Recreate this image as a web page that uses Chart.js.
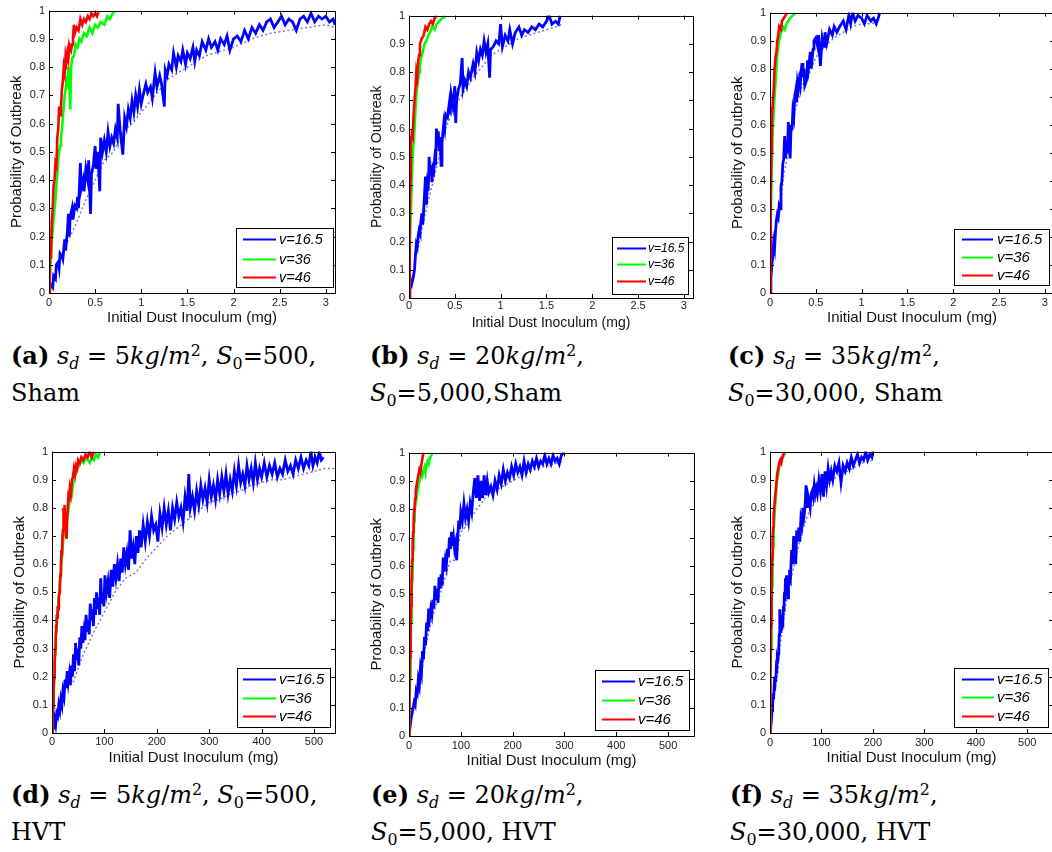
<!DOCTYPE html>
<html>
<head>
<meta charset="utf-8">
<title>Probability of Outbreak</title>
<script src="https://cdn.jsdelivr.net/npm/chart.js@4.4.0/dist/chart.umd.min.js"></script>
<style>
  html, body { margin: 0; padding: 0; background: #fff; width: 1052px; height: 852px; overflow: hidden; }
  canvas { position: absolute; }
  .cap { position: absolute; font-family: 'DejaVu Serif', serif; font-size: 24px; line-height: 37px; color: #000; white-space: nowrap; }
  .cap sub { font-size: 0.66em; line-height: 0; vertical-align: baseline; position: relative; top: 0.3em; }
  .cap sup { font-size: 0.66em; line-height: 0; vertical-align: baseline; position: relative; top: -0.5em; }
  .cap b { font-weight: bold; }
</style>
</head>
<body>

<canvas id="pa"></canvas>
<canvas id="pb"></canvas>
<canvas id="pc"></canvas>
<canvas id="pd"></canvas>
<canvas id="pe"></canvas>
<canvas id="pf"></canvas>

<div class="cap" style="left:11px; top:337px;"><b>(a)</b> <i>s<sub>d</sub></i> = 5<i>kg</i>/<i>m</i><sup>2</sup>, <i>S</i><sub>0</sub>=500,<br>Sham</div>
<div class="cap" style="left:370px; top:337px;"><b>(b)</b> <i>s<sub>d</sub></i> = 20<i>kg</i>/<i>m</i><sup>2</sup>,<br><i>S</i><sub>0</sub>=5,000,Sham</div>
<div class="cap" style="left:728px; top:337px;"><b>(c)</b> <i>s<sub>d</sub></i> = 35<i>kg</i>/<i>m</i><sup>2</sup>,<br><i>S</i><sub>0</sub>=30,000, Sham</div>
<div class="cap" style="left:11px; top:776px;"><b>(d)</b> <i>s<sub>d</sub></i> = 5<i>kg</i>/<i>m</i><sup>2</sup>, <i>S</i><sub>0</sub>=500,<br>HVT</div>
<div class="cap" style="left:371px; top:776px;"><b>(e)</b> <i>s<sub>d</sub></i> = 20<i>kg</i>/<i>m</i><sup>2</sup>,<br><i>S</i><sub>0</sub>=5,000, HVT</div>
<div class="cap" style="left:730px; top:776px;"><b>(f)</b> <i>s<sub>d</sub></i> = 35<i>kg</i>/<i>m</i><sup>2</sup>,<br><i>S</i><sub>0</sub>=30,000, HVT</div>

<script>
// tick values
const yTicks = [0, 0.1, 0.2, 0.3, 0.4, 0.5, 0.6, 0.7, 0.8, 0.9, 1];
const shamTicks = [0, 0.5, 1, 1.5, 2, 2.5, 3];
const hvtTicks = [0, 100, 200, 300, 400, 500];
const legendLabels = ['v=16.5', 'v=36', 'v=46'];

// (a) Sham, s_d=5
const aBlue = [[0,0],[0.02,0.03],[0.04,0.02],[0.05,0.06],[0.07,0.05],[0.08,0.1],[0.1,0.11],[0.11,0.09],[0.12,0.14],[0.14,0.13],[0.15,0.12],[0.17,0.19],[0.18,0.15],[0.2,0.22],[0.21,0.28],[0.22,0.2],[0.23,0.27],[0.25,0.3],[0.26,0.26],[0.28,0.31],[0.3,0.3],[0.31,0.34],[0.32,0.3],[0.34,0.46],[0.35,0.37],[0.37,0.4],[0.38,0.36],[0.4,0.44],[0.42,0.4],[0.43,0.47],[0.45,0.28],[0.46,0.42],[0.48,0.45],[0.5,0.52],[0.51,0.44],[0.53,0.5],[0.55,0.36],[0.56,0.55],[0.58,0.5],[0.6,0.54],[0.62,0.5],[0.64,0.57],[0.66,0.52],[0.68,0.55],[0.7,0.53],[0.72,0.58],[0.74,0.55],[0.75,0.67],[0.77,0.58],[0.79,0.52],[0.8,0.49],[0.82,0.62],[0.84,0.59],[0.86,0.65],[0.88,0.62],[0.9,0.68],[0.92,0.64],[0.94,0.7],[0.96,0.66],[0.98,0.72],[1.0,0.67],[1.02,0.7],[1.05,0.74],[1.07,0.71],[1.1,0.73],[1.12,0.69],[1.15,0.78],[1.17,0.73],[1.2,0.77],[1.22,0.74],[1.25,0.66],[1.26,0.79],[1.28,0.77],[1.3,0.81],[1.33,0.79],[1.35,0.85],[1.38,0.8],[1.4,0.84],[1.43,0.82],[1.45,0.86],[1.48,0.81],[1.5,0.85],[1.53,0.83],[1.56,0.87],[1.58,0.82],[1.6,0.86],[1.63,0.84],[1.66,0.89],[1.7,0.86],[1.73,0.9],[1.76,0.87],[1.8,0.89],[1.83,0.86],[1.86,0.9],[1.9,0.88],[1.93,0.91],[1.96,0.86],[2.0,0.9],[2.04,0.91],[2.08,0.89],[2.12,0.93],[2.16,0.9],[2.2,0.94],[2.24,0.92],[2.28,0.95],[2.32,0.93],[2.36,0.96],[2.4,0.97],[2.44,0.94],[2.48,0.96],[2.52,0.98],[2.56,0.95],[2.6,0.97],[2.64,0.96],[2.68,0.93],[2.72,0.97],[2.76,0.98],[2.8,0.96],[2.84,0.99],[2.88,0.96],[2.92,0.98],[2.96,0.97],[3.0,0.98],[3.04,0.96],[3.08,0.97],[3.1,0.95]];
const aGreen = [[0,0],[0.01,0.06],[0.02,0.12],[0.03,0.18],[0.04,0.22],[0.05,0.26],[0.06,0.3],[0.07,0.33],[0.08,0.38],[0.09,0.42],[0.1,0.47],[0.11,0.5],[0.12,0.52],[0.13,0.55],[0.14,0.58],[0.15,0.62],[0.16,0.66],[0.17,0.7],[0.18,0.72],[0.19,0.75],[0.2,0.74],[0.21,0.8],[0.22,0.77],[0.23,0.65],[0.24,0.8],[0.25,0.83],[0.27,0.84],[0.29,0.88],[0.31,0.87],[0.33,0.9],[0.35,0.89],[0.38,0.92],[0.41,0.91],[0.44,0.94],[0.47,0.92],[0.5,0.95],[0.53,0.94],[0.56,0.96],[0.6,0.95],[0.63,0.98],[0.66,0.97],[0.69,0.99],[0.72,1.0]];
const aRed = [[0,0],[0.005,0.08],[0.01,0.15],[0.02,0.12],[0.03,0.25],[0.04,0.3],[0.05,0.38],[0.06,0.4],[0.07,0.46],[0.08,0.45],[0.09,0.55],[0.1,0.58],[0.11,0.66],[0.12,0.63],[0.13,0.66],[0.14,0.72],[0.15,0.75],[0.16,0.8],[0.17,0.78],[0.18,0.84],[0.19,0.82],[0.2,0.85],[0.21,0.83],[0.22,0.88],[0.24,0.86],[0.25,0.88],[0.26,0.9],[0.27,0.95],[0.28,0.92],[0.3,0.94],[0.32,0.93],[0.34,0.97],[0.36,0.95],[0.38,0.97],[0.4,0.96],[0.42,0.98],[0.44,0.97],[0.46,0.99],[0.48,0.98],[0.5,0.99],[0.52,0.98],[0.54,1.0]];
const aDots = [[0.2,0.18],[0.3,0.25],[0.4,0.33],[0.5,0.4],[0.6,0.47],[0.7,0.5],[0.8,0.57],[0.9,0.6],[1.0,0.64],[1.1,0.68],[1.2,0.72],[1.3,0.76],[1.4,0.78],[1.5,0.8],[1.6,0.82],[1.7,0.84],[1.8,0.85],[1.9,0.86],[2.0,0.87],[2.2,0.9],[2.4,0.92],[2.6,0.93],[2.8,0.94],[3.0,0.95],[3.1,0.94]];

// (b) Sham, s_d=20
const bBlue = [[0,0],[0.01,0.03],[0.02,0.06],[0.03,0.05],[0.05,0.08],[0.06,0.1],[0.07,0.15],[0.08,0.19],[0.09,0.18],[0.1,0.22],[0.11,0.24],[0.12,0.23],[0.13,0.27],[0.14,0.3],[0.15,0.26],[0.16,0.31],[0.17,0.37],[0.18,0.43],[0.19,0.33],[0.2,0.4],[0.21,0.38],[0.22,0.5],[0.23,0.44],[0.24,0.47],[0.25,0.41],[0.26,0.46],[0.27,0.45],[0.28,0.49],[0.29,0.47],[0.3,0.6],[0.31,0.55],[0.32,0.59],[0.33,0.52],[0.34,0.57],[0.35,0.47],[0.36,0.55],[0.38,0.62],[0.39,0.6],[0.4,0.65],[0.42,0.64],[0.44,0.69],[0.45,0.65],[0.46,0.72],[0.48,0.68],[0.5,0.75],[0.51,0.62],[0.52,0.7],[0.54,0.74],[0.56,0.76],[0.58,0.85],[0.59,0.74],[0.61,0.77],[0.63,0.75],[0.65,0.8],[0.67,0.78],[0.7,0.83],[0.72,0.8],[0.74,0.87],[0.76,0.84],[0.78,0.88],[0.8,0.86],[0.82,0.91],[0.84,0.87],[0.86,0.9],[0.88,0.78],[0.89,0.88],[0.92,0.89],[0.95,0.91],[0.98,0.9],[1.0,0.97],[1.02,0.89],[1.05,0.93],[1.08,0.91],[1.1,0.95],[1.13,0.9],[1.16,0.94],[1.2,0.96],[1.23,0.93],[1.26,0.95],[1.3,0.94],[1.34,0.96],[1.38,0.95],[1.42,0.97],[1.46,0.96],[1.5,0.98],[1.53,1.0],[1.56,0.97],[1.6,0.98],[1.63,0.97],[1.65,1.0]];
const bGreen = [[0,0],[0.005,0.08],[0.01,0.18],[0.02,0.3],[0.03,0.42],[0.04,0.5],[0.05,0.55],[0.06,0.6],[0.07,0.66],[0.08,0.72],[0.09,0.75],[0.1,0.77],[0.11,0.8],[0.12,0.82],[0.13,0.85],[0.15,0.87],[0.17,0.9],[0.19,0.91],[0.21,0.93],[0.23,0.94],[0.25,0.96],[0.28,0.95],[0.3,0.97],[0.33,0.98],[0.36,0.99],[0.4,1.0]];
const bRed = [[0,0],[0.005,0.15],[0.01,0.3],[0.015,0.42],[0.02,0.55],[0.03,0.58],[0.04,0.57],[0.05,0.65],[0.06,0.7],[0.07,0.74],[0.08,0.8],[0.09,0.78],[0.1,0.84],[0.11,0.86],[0.12,0.9],[0.14,0.92],[0.16,0.93],[0.18,0.96],[0.2,0.95],[0.22,0.97],[0.24,0.98],[0.26,0.97],[0.28,0.99],[0.3,1.0]];
const bDots = [[0.1,0.18],[0.2,0.33],[0.3,0.46],[0.4,0.6],[0.5,0.68],[0.6,0.73],[0.7,0.78],[0.8,0.82],[0.9,0.86],[1.0,0.88],[1.1,0.9],[1.2,0.92],[1.3,0.93],[1.4,0.94],[1.5,0.95],[1.6,0.96],[1.68,0.97]];

// (c) Sham, s_d=35
const cBlue = [[0,0],[0.01,0.05],[0.02,0.1],[0.03,0.13],[0.04,0.18],[0.05,0.16],[0.06,0.22],[0.07,0.26],[0.08,0.28],[0.09,0.27],[0.1,0.31],[0.11,0.3],[0.12,0.38],[0.13,0.4],[0.14,0.46],[0.15,0.48],[0.16,0.56],[0.17,0.48],[0.18,0.53],[0.19,0.5],[0.2,0.61],[0.21,0.55],[0.22,0.48],[0.23,0.6],[0.24,0.58],[0.25,0.65],[0.26,0.63],[0.27,0.7],[0.28,0.72],[0.29,0.68],[0.3,0.75],[0.31,0.73],[0.32,0.76],[0.33,0.74],[0.34,0.79],[0.35,0.82],[0.36,0.77],[0.37,0.8],[0.38,0.74],[0.4,0.76],[0.41,0.83],[0.42,0.8],[0.44,0.86],[0.45,0.8],[0.47,0.87],[0.48,0.9],[0.5,0.91],[0.52,0.88],[0.53,0.92],[0.55,0.81],[0.57,0.91],[0.59,0.88],[0.6,0.93],[0.62,0.89],[0.65,0.94],[0.68,0.92],[0.7,0.95],[0.73,0.93],[0.76,0.95],[0.8,0.97],[0.83,0.94],[0.86,0.99],[0.88,0.96],[0.9,1.0],[0.93,0.97],[0.96,0.99],[1.0,0.98],[1.03,0.96],[1.06,0.99],[1.1,0.97],[1.13,0.98],[1.16,0.96],[1.18,0.98],[1.2,1.0]];
const cGreen = [[0,0],[0.005,0.1],[0.01,0.25],[0.02,0.45],[0.03,0.58],[0.04,0.65],[0.05,0.7],[0.06,0.75],[0.07,0.8],[0.08,0.85],[0.09,0.88],[0.1,0.9],[0.12,0.93],[0.14,0.95],[0.16,0.94],[0.18,0.96],[0.2,0.97],[0.22,0.98],[0.25,0.99],[0.28,1.0]];
const cRed = [[0,0],[0.005,0.15],[0.01,0.35],[0.015,0.5],[0.02,0.6],[0.025,0.66],[0.03,0.68],[0.04,0.72],[0.05,0.8],[0.06,0.84],[0.07,0.86],[0.08,0.9],[0.09,0.92],[0.1,0.95],[0.12,0.94],[0.13,0.97],[0.15,0.98],[0.17,0.99],[0.19,1.0]];
const cDots = [[0.1,0.27],[0.15,0.42],[0.2,0.5],[0.25,0.62],[0.3,0.68],[0.35,0.74],[0.4,0.76],[0.5,0.84],[0.6,0.88],[0.7,0.91],[0.8,0.93],[0.9,0.95],[1.0,0.96],[1.1,0.96],[1.2,0.97]];

// (d) HVT, s_d=5
const dBlue = [[0,0],[3,0.02],[5,0.05],[7,0.03],[9,0.07],[11,0.06],[13,0.1],[15,0.08],[17,0.12],[19,0.1],[21,0.15],[23,0.13],[25,0.19],[27,0.16],[29,0.22],[31,0.18],[33,0.21],[35,0.17],[37,0.24],[39,0.2],[41,0.28],[43,0.22],[45,0.32],[47,0.26],[49,0.3],[51,0.24],[53,0.34],[55,0.3],[57,0.38],[59,0.32],[61,0.36],[63,0.33],[65,0.42],[67,0.36],[69,0.4],[71,0.35],[73,0.46],[75,0.4],[77,0.44],[79,0.38],[81,0.48],[83,0.42],[85,0.5],[87,0.44],[89,0.48],[91,0.42],[93,0.55],[95,0.46],[97,0.5],[99,0.45],[101,0.56],[104,0.5],[107,0.54],[110,0.48],[113,0.58],[116,0.52],[119,0.6],[122,0.55],[125,0.6],[128,0.54],[131,0.62],[134,0.57],[137,0.66],[140,0.6],[143,0.64],[146,0.58],[149,0.72],[152,0.62],[155,0.66],[158,0.6],[161,0.7],[164,0.64],[167,0.72],[170,0.66],[174,0.74],[178,0.68],[182,0.75],[186,0.7],[190,0.77],[194,0.72],[198,0.74],[202,0.68],[206,0.78],[210,0.73],[214,0.8],[218,0.74],[222,0.79],[226,0.72],[230,0.8],[234,0.76],[238,0.82],[242,0.77],[246,0.8],[250,0.75],[254,0.84],[258,0.79],[261,0.92],[264,0.8],[268,0.84],[272,0.79],[276,0.86],[280,0.81],[284,0.88],[288,0.83],[292,0.87],[296,0.82],[300,0.9],[304,0.84],[308,0.88],[312,0.83],[316,0.9],[320,0.85],[324,0.91],[328,0.86],[332,0.92],[336,0.85],[340,0.9],[344,0.86],[348,0.93],[352,0.88],[356,0.95],[360,0.89],[364,0.92],[368,0.88],[372,0.95],[376,0.9],[380,0.94],[384,0.89],[388,0.96],[392,0.9],[396,0.94],[400,0.91],[405,0.96],[410,0.91],[415,0.95],[420,0.92],[425,0.96],[430,0.91],[435,0.94],[440,0.92],[445,0.97],[450,0.93],[455,0.95],[460,0.92],[465,0.97],[470,0.94],[475,0.98],[480,0.94],[485,0.97],[490,0.95],[494,1.0],[498,0.95],[502,0.98],[506,0.96],[510,1.0],[514,0.97],[518,0.98]];
const dGreen = [[0,0],[1,0.04],[2,0.1],[3,0.14],[4,0.19],[5,0.24],[6,0.28],[7,0.32],[8,0.36],[9,0.4],[10,0.42],[12,0.46],[14,0.5],[16,0.55],[18,0.6],[20,0.65],[22,0.7],[24,0.72],[26,0.76],[28,0.78],[30,0.77],[32,0.8],[34,0.83],[36,0.86],[38,0.85],[40,0.88],[42,0.9],[45,0.92],[48,0.94],[52,0.95],[56,0.97],[60,0.96],[64,0.98],[68,0.97],[72,0.96],[76,0.98],[80,0.97],[84,0.99],[88,0.98],[92,1.0]];
const dRed = [[0,0],[1,0.05],[2,0.09],[3,0.15],[4,0.2],[5,0.25],[6,0.3],[7,0.34],[8,0.38],[9,0.42],[10,0.41],[11,0.45],[12,0.44],[13,0.48],[14,0.5],[15,0.53],[16,0.56],[17,0.6],[18,0.65],[19,0.63],[20,0.7],[21,0.72],[22,0.8],[23,0.75],[24,0.81],[25,0.74],[26,0.78],[27,0.7],[28,0.69],[29,0.78],[30,0.8],[31,0.83],[32,0.82],[34,0.87],[36,0.85],[38,0.9],[40,0.91],[42,0.94],[44,0.92],[46,0.95],[48,0.94],[50,0.97],[53,0.96],[56,0.98],[60,0.97],[64,0.99],[68,0.98],[72,1.0],[76,0.98],[80,1.0]];
const dDots = [[40,0.18],[60,0.28],[80,0.36],[100,0.43],[120,0.5],[140,0.55],[160,0.57],[180,0.62],[200,0.66],[220,0.7],[240,0.73],[260,0.76],[280,0.79],[300,0.82],[320,0.83],[340,0.85],[360,0.86],[380,0.88],[400,0.89],[420,0.9],[440,0.9],[460,0.91],[480,0.92],[500,0.93],[520,0.94],[540,0.94]];

// (e) HVT, s_d=20
const eBlue = [[0,0],[2,0.03],[4,0.06],[6,0.08],[8,0.1],[10,0.12],[12,0.11],[14,0.16],[16,0.15],[18,0.2],[20,0.18],[22,0.24],[24,0.22],[26,0.3],[28,0.27],[30,0.35],[32,0.32],[34,0.4],[36,0.37],[38,0.45],[40,0.42],[42,0.45],[44,0.43],[46,0.48],[48,0.45],[50,0.53],[52,0.48],[54,0.52],[56,0.47],[58,0.56],[60,0.52],[62,0.57],[64,0.53],[66,0.63],[68,0.58],[70,0.62],[72,0.6],[74,0.66],[76,0.63],[78,0.7],[80,0.66],[82,0.72],[84,0.67],[86,0.7],[88,0.66],[90,0.68],[92,0.62],[94,0.7],[96,0.76],[98,0.73],[100,0.79],[103,0.76],[106,0.82],[109,0.77],[112,0.8],[115,0.76],[118,0.82],[121,0.79],[124,0.86],[127,0.91],[130,0.84],[133,0.92],[136,0.83],[139,0.9],[142,0.84],[145,0.92],[148,0.85],[151,0.9],[154,0.86],[158,0.88],[162,0.85],[166,0.9],[170,0.87],[174,0.92],[178,0.89],[182,0.94],[186,0.9],[190,0.93],[194,0.91],[198,0.95],[202,0.92],[206,0.96],[210,0.93],[214,0.95],[218,0.92],[222,0.97],[226,0.93],[230,0.96],[234,0.94],[238,0.97],[242,0.95],[246,0.98],[250,0.95],[254,0.97],[258,0.96],[262,0.99],[266,0.96],[270,0.98],[274,0.96],[278,0.99],[282,0.97],[286,0.98],[290,0.96],[294,0.99],[298,1.0]];
const eGreen = [[0,0],[0.5,0.05],[1,0.1],[2,0.2],[3,0.3],[4,0.4],[5,0.5],[6,0.55],[7,0.6],[8,0.66],[9,0.72],[10,0.76],[11,0.8],[12,0.81],[14,0.83],[16,0.86],[18,0.88],[20,0.9],[22,0.91],[24,0.93],[26,0.92],[28,0.94],[30,0.95],[32,0.93],[34,0.96],[36,0.97],[38,0.96],[40,0.98],[43,0.99],[46,1.0]];
const eRed = [[0,0],[0.5,0.08],[1,0.15],[2,0.28],[3,0.38],[4,0.46],[5,0.55],[6,0.62],[7,0.68],[8,0.72],[9,0.76],[10,0.8],[11,0.82],[12,0.84],[13,0.86],[14,0.88],[15,0.89],[16,0.9],[18,0.92],[20,0.94],[22,0.93],[24,0.96],[26,0.98],[28,1.0]];
const eDots = [[20,0.15],[30,0.3],[40,0.38],[50,0.45],[60,0.5],[70,0.56],[80,0.62],[90,0.62],[100,0.72],[110,0.74],[120,0.77],[130,0.8],[140,0.82],[150,0.85],[160,0.86],[180,0.88],[200,0.9],[220,0.92],[240,0.94],[260,0.95],[280,0.96],[300,0.97]];

// (f) HVT, s_d=35
const fBlue = [[0,0],[2,0.03],[4,0.08],[5,0.1],[6,0.14],[7,0.12],[8,0.16],[9,0.15],[10,0.2],[11,0.18],[12,0.22],[13,0.21],[14,0.26],[15,0.25],[16,0.28],[17,0.3],[18,0.35],[19,0.44],[20,0.36],[21,0.4],[22,0.37],[23,0.42],[24,0.38],[25,0.4],[26,0.45],[27,0.43],[28,0.5],[29,0.47],[30,0.55],[31,0.5],[32,0.56],[33,0.5],[34,0.53],[35,0.48],[36,0.56],[37,0.53],[38,0.58],[40,0.56],[42,0.65],[44,0.6],[46,0.7],[48,0.66],[50,0.6],[52,0.72],[54,0.68],[56,0.73],[58,0.68],[60,0.76],[62,0.74],[64,0.8],[66,0.77],[68,0.8],[70,0.88],[72,0.8],[74,0.84],[76,0.82],[78,0.8],[80,0.85],[82,0.86],[84,0.84],[86,0.88],[88,0.85],[90,0.87],[92,0.85],[95,0.9],[98,0.86],[101,0.92],[104,0.84],[107,0.93],[110,0.88],[113,0.94],[116,0.9],[119,0.93],[122,0.9],[126,0.95],[130,0.93],[134,0.96],[138,0.89],[142,0.95],[146,0.93],[150,0.96],[154,0.94],[158,0.98],[162,0.95],[166,0.97],[170,0.99],[174,0.96],[178,0.98],[182,0.97],[186,1.0],[190,0.97],[194,0.99],[198,0.98],[200,1.0]];
const fGreen = [[0,0],[0.5,0.08],[1,0.16],[2,0.3],[3,0.42],[4,0.52],[5,0.6],[6,0.66],[7,0.71],[8,0.75],[10,0.81],[12,0.86],[14,0.9],[16,0.92],[18,0.95],[20,0.96],[22,0.97],[25,0.98],[28,0.99],[30,1.0]];
const fRed = [[0,0],[0.5,0.1],[1,0.2],[2,0.38],[3,0.52],[4,0.62],[5,0.68],[6,0.73],[7,0.77],[8,0.8],[10,0.84],[12,0.88],[14,0.92],[16,0.94],[18,0.96],[20,0.97],[22,0.96],[24,0.98],[26,0.99],[28,1.0]];
const fDots = [[10,0.15],[15,0.22],[20,0.32],[30,0.45],[40,0.54],[50,0.62],[60,0.7],[70,0.76],[80,0.8],[90,0.83],[100,0.86],[110,0.88],[120,0.9],[140,0.92],[160,0.94],[180,0.96],[200,0.97]];

const FONT = "'Liberation Sans', Arial, sans-serif";

// geometry of each panel (plot box in page px) and its inner legend
const panels = [
  { id: 'pa', L: 49, R: 335, T: 8, B: 293, xMax: 3.1, ticks: shamTicks, title: 15, tickPad: 3,
    series: [aBlue, aGreen, aRed], dots: aDots,
    legend: { ri: 2, bi: 6, w: 97, h: 59, rows: [11, 31, 49], lx: 7, len: 33, tx: 43, size: 14.5 } },
  { id: 'pb', L: 409, R: 693, T: 13, B: 298, xMax: 3.1, ticks: shamTicks, title: 14, tickPad: 1.5,
    series: [bBlue, bGreen, bRed], dots: bDots,
    legend: { ri: 5, bi: 4, w: 76, h: 57, rows: [11, 27, 44], lx: 5, len: 29, tx: 36, size: 12 } },
  { id: 'pc', L: 770, R: 1054, T: 10, B: 293, xMax: 3.1, ticks: shamTicks, title: 15, tickPad: 3,
    series: [cBlue, cGreen, cRed], dots: cDots,
    legend: { ri: 5, bi: 8, w: 95, h: 56, rows: [10, 28, 46], lx: 8, len: 31, tx: 43, size: 15 } },
  { id: 'pd', L: 52, R: 335, T: 449, B: 733, xMax: 540, ticks: hvtTicks, title: 15, tickPad: 2.5,
    series: [dBlue, dGreen, dRed], dots: dDots,
    legend: { ri: 5, bi: 6, w: 93, h: 59, rows: [11, 30, 48], lx: 6, len: 33, tx: 42, size: 15 } },
  { id: 'pe', L: 409, R: 694, T: 450, B: 736, xMax: 550, ticks: hvtTicks, title: 15, tickPad: 3,
    series: [eBlue, eGreen, eRed], dots: eDots,
    legend: { ri: 5, bi: 6, w: 94, h: 60, rows: [11, 30, 49], lx: 7, len: 33, tx: 43, size: 15 } },
  { id: 'pf', L: 770, R: 1053, T: 449, B: 733, xMax: 550, ticks: hvtTicks, title: 15, tickPad: 3,
    series: [fBlue, fGreen, fRed], dots: fDots,
    legend: { ri: 5, bi: 6, w: 94, h: 59, rows: [11, 29, 48], lx: 8, len: 32, tx: 43, size: 15 } },
];

const colors = ['#0000ff', '#00ff00', '#ff0000'];
const AXW = 49, AXH = 37, PADT = 8, PADR = 12;

function toXY(points) {
  return points.map(p => ({ x: p[0], y: p[1] }));
}

// box, inward ticks on all four sides
function framePlugin(xTicks) {
  return {
    id: 'frame',
    afterDraw(chart) {
      const { ctx, chartArea: ca, scales } = chart;
      ctx.save();
      ctx.strokeStyle = '#000';
      ctx.lineWidth = 1;
      ctx.strokeRect(Math.round(ca.left) + 0.5, Math.round(ca.top) + 0.5,
        Math.round(ca.right - ca.left), Math.round(ca.bottom - ca.top));
      ctx.beginPath();
      xTicks.forEach(v => {
        const px = Math.round(scales.x.getPixelForValue(v)) + 0.5;
        ctx.moveTo(px, ca.bottom); ctx.lineTo(px, ca.bottom - 4);
        ctx.moveTo(px, ca.top); ctx.lineTo(px, ca.top + 4);
      });
      yTicks.forEach(v => {
        const py = Math.round(scales.y.getPixelForValue(v)) + 0.5;
        ctx.moveTo(ca.left, py); ctx.lineTo(ca.left + 4, py);
        ctx.moveTo(ca.right, py); ctx.lineTo(ca.right - 4, py);
      });
      ctx.stroke();
      ctx.restore();
    }
  };
}

// matlab-style legend box in the lower right of the plot
function legendPlugin(lg) {
  return {
    id: 'boxLegend',
    afterDraw(chart) {
      const { ctx, chartArea: ca } = chart;
      const x0 = Math.round(ca.right - lg.ri - lg.w);
      const y0 = Math.round(ca.bottom - lg.bi - lg.h);
      ctx.save();
      ctx.fillStyle = '#fff';
      ctx.fillRect(x0, y0, lg.w, lg.h);
      ctx.strokeStyle = '#000';
      ctx.lineWidth = 1;
      ctx.strokeRect(x0 + 0.5, y0 + 0.5, lg.w, lg.h);
      const items = chart.data.datasets.filter(d => d.inLegend);
      items.forEach((d, i) => {
        const y = y0 + lg.rows[i];
        ctx.strokeStyle = d.borderColor;
        ctx.lineWidth = 2;
        ctx.beginPath();
        ctx.moveTo(x0 + lg.lx, y + 0.5);
        ctx.lineTo(x0 + lg.lx + lg.len, y + 0.5);
        ctx.stroke();
        ctx.fillStyle = '#000';
        ctx.font = 'italic ' + lg.size + 'px ' + FONT;
        ctx.textBaseline = 'middle';
        ctx.fillText(d.label, x0 + lg.tx, y + 1);
      });
      ctx.restore();
    }
  };
}

function makePanel(p) {
  const canvas = document.getElementById(p.id);
  const w = (p.R - p.L) + AXW + PADR;
  const h = (p.B - p.T) + PADT + AXH;
  canvas.width = w;
  canvas.height = h;
  canvas.style.width = w + 'px';
  canvas.style.height = h + 'px';
  canvas.style.left = (p.L - AXW) + 'px';
  canvas.style.top = (p.T - PADT) + 'px';

  const datasets = [{
    label: '', data: toXY(p.dots), borderColor: 'rgba(70,70,255,0.75)', borderWidth: 1.5,
    borderDash: [2, 2.5], pointRadius: 0, tension: 0, fill: false, order: 4, inLegend: false
  }];
  p.series.forEach((pts, i) => {
    datasets.push({
      label: legendLabels[i], data: toXY(pts), borderColor: colors[i], borderWidth: i === 0 ? 2.8 : 2.6,
      pointRadius: 0, tension: 0, fill: false, order: 3 - i, inLegend: true
    });
  });

  new Chart(canvas.getContext('2d'), {
    type: 'line',
    data: { datasets },
    options: {
      responsive: false,
      animation: false,
      events: [],
      layout: { padding: { top: PADT, right: PADR, left: 0, bottom: 0 } },
      plugins: { legend: { display: false }, tooltip: { enabled: false } },
      scales: {
        x: {
          type: 'linear', min: 0, max: p.xMax,
          afterBuildTicks: s => { s.ticks = p.ticks.map(v => ({ value: v })); },
          afterFit: s => { s.height = AXH; },
          grid: { display: false, drawTicks: false },
          border: { display: false },
          ticks: { autoSkip: false, maxRotation: 0, padding: p.tickPad, color: '#222',
            font: { family: FONT, size: 11 }, callback: v => String(v) },
          title: { display: true, text: 'Initial Dust Inoculum (mg)', color: '#111',
            font: { family: FONT, size: p.title }, padding: { top: 0, bottom: 3.2 } }
        },
        y: {
          type: 'linear', min: 0, max: 1,
          afterBuildTicks: s => { s.ticks = yTicks.map(v => ({ value: v })); },
          afterFit: s => { s.width = AXW; },
          grid: { display: false, drawTicks: false },
          border: { display: false },
          ticks: { autoSkip: false, padding: 4, color: '#222',
            font: { family: FONT, size: 11 }, callback: v => String(v) },
          title: { display: true, text: 'Probability of Outbreak', color: '#111',
            font: { family: FONT, size: p.title }, padding: { top: 17 - p.title * 0.6, bottom: 0 } }
        }
      }
    },
    plugins: [framePlugin(p.ticks), legendPlugin(p.legend)]
  });
}

panels.forEach(makePanel);
</script>
</body>
</html>
